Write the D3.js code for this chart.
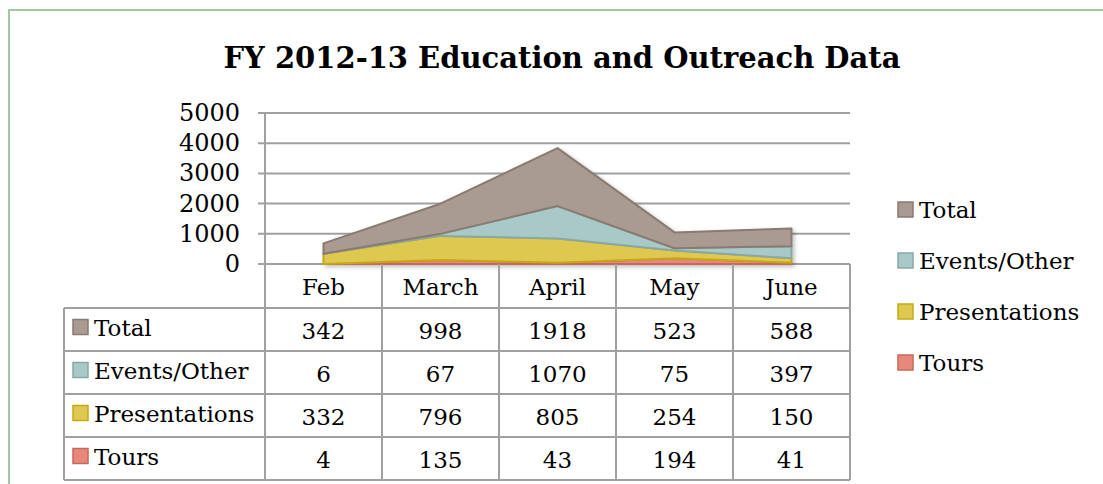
<!DOCTYPE html>
<html>
<head>
<meta charset="utf-8">
<script src="https://cdn.jsdelivr.net/npm/d3@7"></script>
<style>
  body { margin: 0; background: #fff; }
  text { font-family: "DejaVu Serif", Georgia, serif; fill: #000; }
</style>
</head>
<body>
<div class="chart"></div>
<script>
var months = ["Feb", "March", "April", "May", "June"];
var total = [342, 998, 1918, 523, 588];
var events = [6, 67, 1070, 75, 397];
var presentations = [332, 796, 805, 254, 150];
var tours = [4, 135, 43, 194, 41];
var yTicks = [0, 1000, 2000, 3000, 4000, 5000];
var seriesNames = ["Total", "Events/Other", "Presentations", "Tours"];

var fills = {"Total": "#a99b92", "Events/Other": "#a9c8c8", "Presentations": "#dfc850", "Tours": "#e8887a"};
var strokes = {"Total": "#8a7a70", "Events/Other": "#88a8a8", "Presentations": "#c4a912", "Tours": "#c9685a"};
var valuesFor = {"Total": total, "Events/Other": events, "Presentations": presentations, "Tours": tours};

var width = 1103, height = 484;
var svg = d3.select(".chart").append("svg")
  .attr("width", width)
  .attr("height", height);

// outer frame
svg.append("path")
  .attr("d", "M9," + height + " V10 H" + width)
  .style("fill", "none")
  .style("stroke", "#a3c79e")
  .style("stroke-width", 2);

svg.append("text")
  .attr("x", 562).attr("y", 68)
  .attr("text-anchor", "middle")
  .style("font-size", "29px")
  .style("font-weight", "bold")
  .text("FY 2012-13 Education and Outreach Data");

var x = d3.scaleBand().domain(months).range([265, 850]);
var y = d3.scaleLinear().domain([0, 5000]).range([264, 113]);

// gridlines
svg.selectAll("line.grid").data(yTicks).enter().append("line")
  .attr("class", "grid")
  .attr("x1", 258).attr("x2", 850)
  .attr("y1", function(d){ return y(d); })
  .attr("y2", function(d){ return y(d); })
  .style("stroke", "#a0a0a0")
  .style("stroke-width", 2);

svg.append("line")
  .attr("x1", 265).attr("x2", 265)
  .attr("y1", y(5000)).attr("y2", y(0))
  .style("stroke", "#a0a0a0")
  .style("stroke-width", 2);

svg.selectAll("text.ytick").data(yTicks).enter().append("text")
  .attr("class", "ytick")
  .attr("x", 240)
  .attr("y", function(d){ return y(d) + 8; })
  .attr("text-anchor", "end")
  .style("font-size", "24px")
  .text(function(d){ return d; });

// stacked areas
var rows = months.map(function(m, i){
  return {month: m, "Total": total[i], "Events/Other": events[i], "Presentations": presentations[i], "Tours": tours[i]};
});
var stack = d3.stack().keys(["Tours", "Presentations", "Events/Other", "Total"]);
var layers = stack(rows);

var defs = svg.append("defs");
var shadow = defs.append("filter").attr("id", "shadow")
  .attr("x", "-10%").attr("y", "-10%").attr("width", "130%").attr("height", "130%");
shadow.append("feDropShadow")
  .attr("dx", 2).attr("dy", 2).attr("stdDeviation", 2)
  .attr("flood-color", "#000").attr("flood-opacity", 0.25);

var area = d3.area()
  .x(function(d){ return x(d.data.month) + x.bandwidth() / 2; })
  .y0(function(d){ return y(d[0]); })
  .y1(function(d){ return y(d[1]); });

svg.append("g").attr("filter", "url(#shadow)")
  .selectAll("path").data(layers).enter().append("path")
  .attr("d", area)
  .style("fill", function(d){ return fills[d.key]; })
  .style("stroke", function(d){ return strokes[d.key]; })
  .style("stroke-width", 2)
  .style("stroke-linejoin", "round");

// data table
var gridColor = "#a0a0a0";
var rowTop = 308, rowH = 43;
var tableBottom = rowTop + rowH * seriesNames.length;
var table = svg.append("g");

months.forEach(function(m){
  table.append("text")
    .attr("x", x(m) + x.bandwidth() / 2)
    .attr("y", 295)
    .attr("text-anchor", "middle")
    .style("font-size", "23px")
    .text(m);
});

// vertical lines
x.domain().concat(["end"]).forEach(function(m, i){
  var xx = i < months.length ? x(m) : 850;
  table.append("line")
    .attr("x1", xx).attr("x2", xx)
    .attr("y1", 264).attr("y2", tableBottom)
    .style("stroke", gridColor).style("stroke-width", 2);
});
table.append("line")
  .attr("x1", 64).attr("x2", 64)
  .attr("y1", rowTop).attr("y2", tableBottom)
  .style("stroke", gridColor).style("stroke-width", 2);

// horizontal lines
d3.range(seriesNames.length + 1).forEach(function(i){
  table.append("line")
    .attr("x1", 64).attr("x2", 850)
    .attr("y1", rowTop + i * rowH).attr("y2", rowTop + i * rowH)
    .style("stroke", gridColor).style("stroke-width", 2);
});

seriesNames.forEach(function(name, r){
  var cy = rowTop + r * rowH + rowH / 2;
  table.append("rect")
    .attr("x", 73).attr("y", cy - 10)
    .attr("width", 15).attr("height", 15)
    .style("fill", fills[name])
    .style("stroke", strokes[name])
    .style("stroke-width", 1.5);
  table.append("text")
    .attr("x", 94).attr("y", cy + 6)
    .style("font-size", "23px")
    .text(name);
  valuesFor[name].forEach(function(v, i){
    table.append("text")
      .attr("x", x(months[i]) + x.bandwidth() / 2)
      .attr("y", cy + 9)
      .attr("text-anchor", "middle")
      .style("font-size", "23px")
      .text(v);
  });
});

// legend
var legend = svg.append("g");
seriesNames.forEach(function(name, i){
  var ly = 210 + i * 51;
  legend.append("rect")
    .attr("x", 898).attr("y", ly - 8)
    .attr("width", 15).attr("height", 15)
    .style("fill", fills[name])
    .style("stroke", strokes[name])
    .style("stroke-width", 1.5);
  legend.append("text")
    .attr("x", 919).attr("y", ly + 8)
    .style("font-size", "23px")
    .text(name);
});
</script>
</body>
</html>
